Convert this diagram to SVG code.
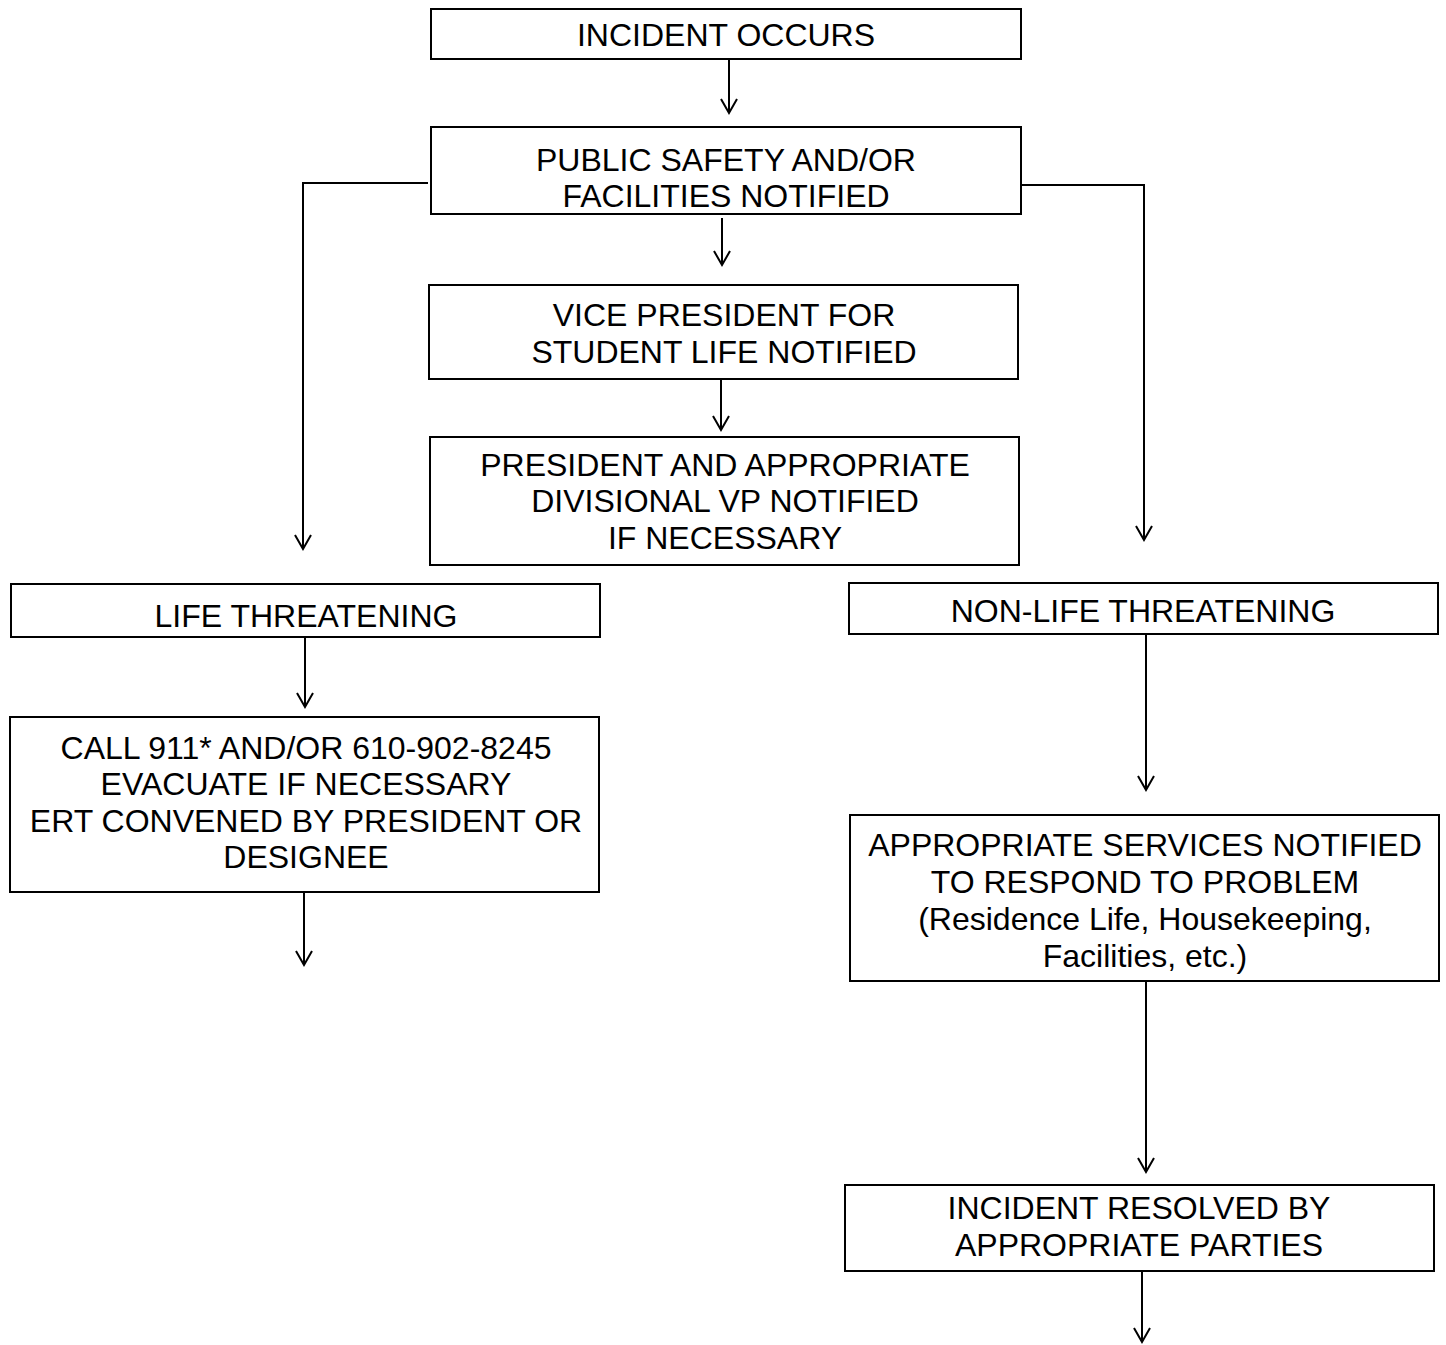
<svg xmlns="http://www.w3.org/2000/svg" width="1446" height="1345" viewBox="0 0 1446 1345">
  <style>
    .box { fill: #ffffff; stroke: #000000; stroke-width: 2; }
    .lbl { font-family: "Liberation Sans", Arial, sans-serif; font-size: 32px; fill: #000000; text-anchor: middle; }
    .wire { fill: none; stroke: #000000; stroke-width: 2; }
    .arrow { fill: none; stroke: #000000; stroke-width: 2; marker-end: url(#vee); }
  </style>
  <defs>
    <marker id="vee" markerUnits="userSpaceOnUse" markerWidth="20" markerHeight="20" refX="16" refY="8" orient="auto" overflow="visible">
      <path d="M2,0 L16,8 L2,16" fill="none" stroke="#000000" stroke-width="2"/>
    </marker>
  </defs>
  <rect width="1446" height="1345" fill="#ffffff"/>

  <g id="connectors">
    <line class="arrow" x1="729" y1="59" x2="729" y2="113"/>
    <polyline class="arrow" points="428,183 303,183 303,549"/>
    <polyline class="arrow" points="1021,185 1144,185 1144,540"/>
    <line class="arrow" x1="722" y1="218" x2="722" y2="265"/>
    <line class="arrow" x1="721" y1="379" x2="721" y2="430"/>
    <line class="arrow" x1="305" y1="637" x2="305" y2="707"/>
    <line class="arrow" x1="304" y1="892" x2="304" y2="965"/>
    <line class="arrow" x1="1146" y1="634" x2="1146" y2="790"/>
    <line class="arrow" x1="1146" y1="981" x2="1146" y2="1172"/>
    <line class="arrow" x1="1142" y1="1268" x2="1142" y2="1342"/>
  </g>

  <g id="incident-occurs">
    <rect class="box" x="431" y="9" width="590" height="50"/>
    <text class="lbl" x="726" y="46">INCIDENT OCCURS</text>
  </g>

  <g id="public-safety">
    <rect class="box" x="431" y="127" width="590" height="87"/>
    <text class="lbl" x="726" y="171">PUBLIC SAFETY AND/OR</text>
    <text class="lbl" x="726" y="207">FACILITIES NOTIFIED</text>
  </g>

  <g id="vp-student-life">
    <rect class="box" x="429" y="285" width="589" height="94"/>
    <text class="lbl" x="724" y="326">VICE PRESIDENT FOR</text>
    <text class="lbl" x="724" y="363">STUDENT LIFE NOTIFIED</text>
  </g>

  <g id="president">
    <rect class="box" x="430" y="437" width="589" height="128"/>
    <text class="lbl" x="725" y="476">PRESIDENT AND APPROPRIATE</text>
    <text class="lbl" x="725" y="512">DIVISIONAL VP NOTIFIED</text>
    <text class="lbl" x="725" y="549">IF NECESSARY</text>
  </g>

  <g id="life-threatening">
    <rect class="box" x="11" y="584" width="589" height="53"/>
    <text class="lbl" x="306" y="627">LIFE THREATENING</text>
  </g>

  <g id="call-911">
    <rect class="box" x="10" y="717" width="589" height="175"/>
    <text class="lbl" x="306" y="759">CALL 911* AND/OR 610-902-8245</text>
    <text class="lbl" x="306" y="795">EVACUATE IF NECESSARY</text>
    <text class="lbl" x="306" y="832">ERT CONVENED BY PRESIDENT OR</text>
    <text class="lbl" x="306" y="868">DESIGNEE</text>
  </g>

  <g id="non-life-threatening">
    <rect class="box" x="849" y="583" width="589" height="51"/>
    <text class="lbl" x="1143" y="622">NON-LIFE THREATENING</text>
  </g>

  <g id="services-notified">
    <rect class="box" x="850" y="815" width="589" height="166"/>
    <text class="lbl" x="1145" y="856">APPROPRIATE SERVICES NOTIFIED</text>
    <text class="lbl" x="1145" y="893">TO RESPOND TO PROBLEM</text>
    <text class="lbl" x="1145" y="930">(Residence Life, Housekeeping,</text>
    <text class="lbl" x="1145" y="967">Facilities, etc.)</text>
  </g>

  <g id="incident-resolved">
    <rect class="box" x="845" y="1185" width="589" height="86"/>
    <text class="lbl" x="1139" y="1219">INCIDENT RESOLVED BY</text>
    <text class="lbl" x="1139" y="1256">APPROPRIATE PARTIES</text>
  </g>
</svg>
